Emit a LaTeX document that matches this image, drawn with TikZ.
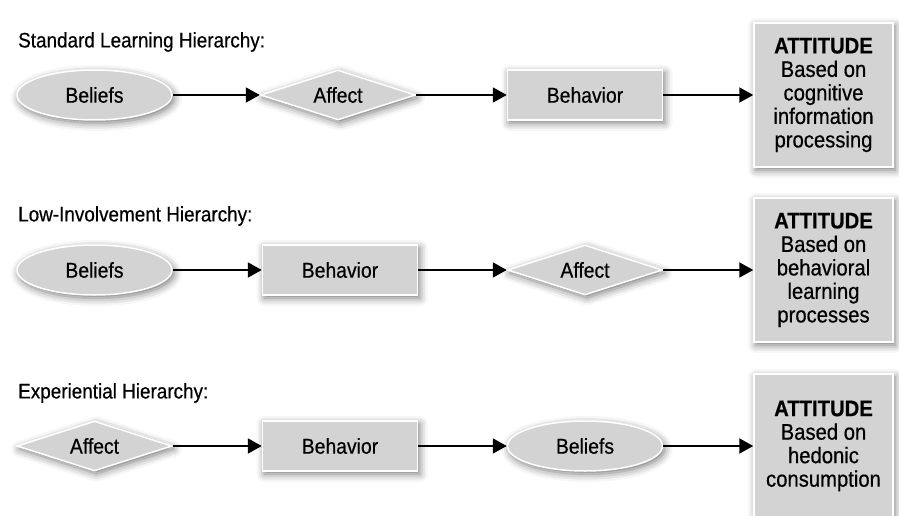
\documentclass[tikz,border=0pt]{standalone}
\usepackage{fontspec}
\setmainfont[FakeStretch=0.9,FakeBold=0.5]{Liberation Sans}
\usetikzlibrary{shapes.geometric,arrows.meta,shadows.blur}
\definecolor{stagegray}{RGB}{211,211,211}
\tikzset{
  stage/.style={draw=white,line width=1.5pt,fill=stagegray,inner sep=0pt,
    minimum width=155pt,minimum height=50pt,font=\fontsize{21.5}{24}\selectfont,
    blur shadow={shadow xshift=2pt,shadow yshift=-3pt,
                 shadow blur radius=8pt,shadow opacity=55}}, % common look
  beliefs/.style={stage,ellipse},
  affect/.style={stage,diamond,aspect=3.1},
  behavior/.style={stage,rectangle},
  attitude/.style={stage,rectangle,minimum width=139pt,minimum height=144pt,
    align=center,font=\fontsize{22.5}{23.5}\selectfont}, % result box
  flow/.style={-{Triangle[length=14pt,width=15pt]},line width=2pt},
  heading/.style={anchor=west,inner sep=0pt,font=\fontsize{21}{24}\selectfont}
}

\begin{document}
\begin{tikzpicture}[x=1pt,y=-1pt]
  \useasboundingbox (0,0) rectangle (899,516);

  % standard learning
  \node[heading] (t1) at (18,42) {Standard Learning Hierarchy:};
  \node[beliefs] (bel1) at (94.5,95) {Beliefs};
  \node[affect] (aff1) at (338,95) {Affect};
  \node[behavior] (beh1) at (585,95) {Behavior};
  \node[attitude] (att1) at (823.5,95)
    {\textbf{ATTITUDE}\\Based on\\cognitive\\information\\processing};
  \draw[flow] (bel1) -- (aff1);
  \draw[flow] (aff1) -- (beh1);
  \draw[flow] (beh1) -- (att1);

  % low involvement
  \node[heading] (t2) at (18,216) {Low-Involvement Hierarchy:};
  \node[beliefs] (bel2) at (94.5,270) {Beliefs};
  \node[behavior] (beh2) at (340,270) {Behavior};
  \node[affect] (aff2) at (585,270) {Affect};
  \node[attitude] (att2) at (823.5,270)
    {\textbf{ATTITUDE}\\Based on\\behavioral\\learning\\processes};
  \draw[flow] (bel2) -- (beh2);
  \draw[flow] (beh2) -- (aff2);
  \draw[flow] (aff2) -- (att2);

  % experiential
  \node[heading] (t3) at (18,393) {Experiential Hierarchy:};
  \node[affect] (aff3) at (94.5,446) {Affect};
  \node[behavior] (beh3) at (340,446) {Behavior};
  \node[beliefs] (bel3) at (585,446) {Beliefs};
  \node[attitude] (att3) at (823.5,446)
    {\textbf{ATTITUDE}\\Based on\\hedonic\\consumption};
  \draw[flow] (aff3) -- (beh3);
  \draw[flow] (beh3) -- (bel3);
  \draw[flow] (bel3) -- (att3);
\end{tikzpicture}
\end{document}
